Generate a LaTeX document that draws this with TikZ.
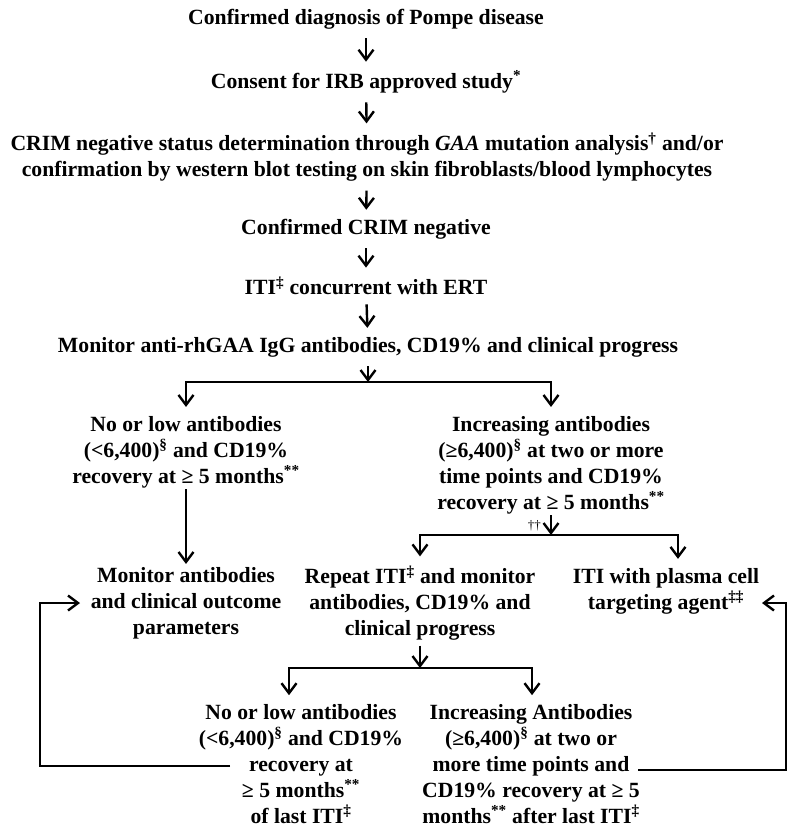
\documentclass[tikz,border=0pt]{standalone}
\usepackage{fontspec}
\setmainfont{Liberation Serif}
\usetikzlibrary{arrows.meta}

\tikzset{
  txt/.style={font=\fontsize{21.7}{26}\selectfont\bfseries, align=center, inner sep=0pt},
  mark text/.style={font=\fontsize{13}{13}\selectfont, inner sep=0pt},
  arr/.style={-{Straight Barb[length=10pt,width=15pt]}, line width=2.4pt},
  spine/.style={shorten <=8pt, shorten >=8pt}
}

\begin{document}
\begin{tikzpicture}[x=1pt, y=-1pt, line width=2.4pt]
\useasboundingbox (0,0) rectangle (788,827);
% main line
\node[txt] (diag)    at (366,19)  {Confirmed diagnosis of Pompe disease};
\node[txt] (consent) at (366,82)  {Consent for IRB approved study\textsuperscript{*}};
\node[txt] (crim)    at (367,157) {CRIM negative status determination through \textit{GAA} mutation analysis\textsuperscript{†} and/or\\
                                   confirmation by western blot testing on skin fibroblasts/blood lymphocytes};
\node[txt] (neg)     at (366,229) {Confirmed CRIM negative};
\node[txt] (iti)     at (366,286) {ITI\textsuperscript{‡} concurrent with ERT};
\node[txt] (watch)   at (368,347) {Monitor anti-rhGAA IgG antibodies, CD19\% and clinical progress};
\coordinate (fork1) at (368,382);
% first outcome
\node[txt] (low)  at (186,452) {No or low antibodies\\ (<6,400)\textsuperscript{§} and CD19\%\\ recovery at ≥ 5 months\textsuperscript{**}};
\node[txt] (high) at (551,465) {Increasing antibodies\\ (≥6,400)\textsuperscript{§} at two or more\\ time points and CD19\%\\ recovery at ≥ 5 months\textsuperscript{**}};
\coordinate (fork2) at (551,535);
\node[mark text, anchor=south east] (dagger) at ([xshift=-9pt,yshift=3pt]fork2) {††};
% second step
\node[txt] (follow) at (186,603) {Monitor antibodies\\ and clinical outcome\\ parameters};
\node[txt] (repeat) at (420,603) {Repeat ITI\textsuperscript{‡} and monitor\\ antibodies, CD19\% and\\ clinical progress};
\node[txt] (plasma) at (666,591) {ITI with plasma cell\\ targeting agent\textsuperscript{‡‡}};
\coordinate (fork3) at (420,668);
% after repeat
\node[txt] (low2)  at (301,764) {No or low antibodies\\ (<6,400)\textsuperscript{§} and CD19\%\\ recovery at\\ ≥ 5 months\textsuperscript{**}\\ of last ITI\textsuperscript{‡}};
\node[txt] (high2) at (531,764) {Increasing Antibodies\\ (≥6,400)\textsuperscript{§} at two or\\ more time points and\\ CD19\% recovery at ≥ 5\\ months\textsuperscript{**} after last ITI\textsuperscript{‡}};
% loop back
\coordinate (lowout)   at (230,766);
\coordinate (lowturn)  at (40,766);
\coordinate (followin) at (80,603);
\coordinate (highout)  at (638,770);
\coordinate (highturn) at (786,770);
\coordinate (plasmain) at (762,603);

% arrows
\draw[arr, spine] (diag) -- (consent);
\draw[arr, spine] (consent) -- (crim);
\draw[arr, spine] (crim) -- (neg);
\draw[arr, spine] (neg) -- (iti);
\draw[arr, spine] (iti) -- (watch);
\draw[arr, shorten <=8pt] (watch) -- (fork1);
\draw[arr, shorten >=8pt] (fork1) -| (low);
\draw[arr, shorten >=8pt] (fork1) -| (high);
\draw[arr, shorten >=2pt] (low) -- (follow);
\draw[arr] (high) -- (fork2);
\draw[arr, shorten >=8pt] (fork2) -| (repeat);
\draw[arr, shorten >=8pt] (fork2) -| ([xshift=12pt]plasma.north);
\draw[arr, shorten <=4pt] (repeat) -- (fork3);
\draw[arr, shorten >=8pt] (fork3) -| ([xshift=-12pt]low2.north);
\draw[arr, shorten >=8pt] (fork3) -| ([xshift=1pt]high2.north);
\draw[arr] (lowout) -- (lowturn) |- (followin);
\draw[arr] (highout) -- (highturn) |- (plasmain);
\end{tikzpicture}
\end{document}
